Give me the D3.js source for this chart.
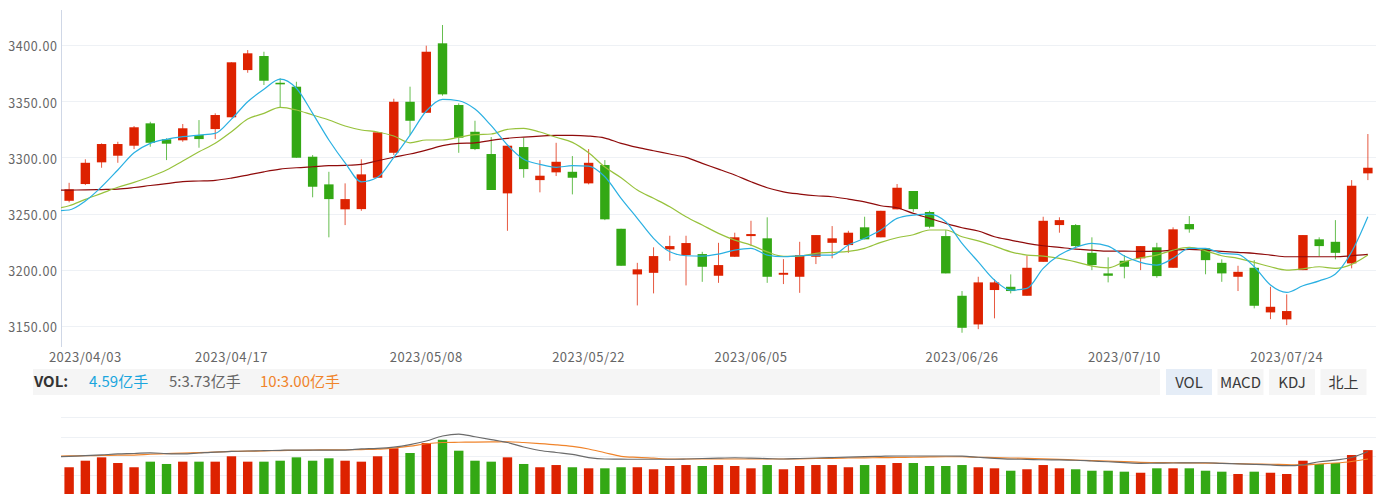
<!DOCTYPE html>
<html lang="zh-CN">
<head>
<meta charset="UTF-8" />
<title>上证指数 日K</title>
<script src="https://cdn.jsdelivr.net/npm/d3@7"></script>
<style>
  body { margin: 0; background: #fff; }
  svg text { font-family: "Noto Sans CJK SC", "Liberation Sans", sans-serif; }
</style>
</head>
<body>
<div id="chart"></div>
<script>
// ---- data ----
const dates = [
  "2023/03/31","2023/04/03","2023/04/04","2023/04/06","2023/04/07","2023/04/10","2023/04/11","2023/04/12","2023/04/13","2023/04/14",
  "2023/04/17","2023/04/18","2023/04/19","2023/04/20","2023/04/21","2023/04/24","2023/04/25","2023/04/26","2023/04/27","2023/04/28",
  "2023/05/04","2023/05/05","2023/05/08","2023/05/09","2023/05/10","2023/05/11","2023/05/12","2023/05/15","2023/05/16","2023/05/17",
  "2023/05/18","2023/05/19","2023/05/22","2023/05/23","2023/05/24","2023/05/25","2023/05/26","2023/05/29","2023/05/30","2023/05/31",
  "2023/06/01","2023/06/02","2023/06/05","2023/06/06","2023/06/07","2023/06/08","2023/06/09","2023/06/12","2023/06/13","2023/06/14",
  "2023/06/15","2023/06/16","2023/06/19","2023/06/20","2023/06/21","2023/06/26","2023/06/27","2023/06/28","2023/06/29","2023/06/30",
  "2023/07/03","2023/07/04","2023/07/05","2023/07/06","2023/07/07","2023/07/10","2023/07/11","2023/07/12","2023/07/13","2023/07/14",
  "2023/07/17","2023/07/18","2023/07/19","2023/07/20","2023/07/21","2023/07/24","2023/07/25","2023/07/26","2023/07/27","2023/07/28",
  "2023/07/31"
];
const opens = [
  3261.4,3276.3,3295.6,3301.5,3310.4,3330.3,3316.1,3315.2,3319.9,3325.2,
  3335.7,3377.7,3390.2,3366.4,3362.9,3300.6,3276.0,3253.8,3254.0,3281.9,
  3304.1,3349.5,3339.7,3401.5,3346.6,3322.8,3303.0,3268.0,3309.2,3279.8,
  3286.7,3287.2,3276.9,3293.2,3236.5,3195.9,3197.3,3218.2,3213.1,3214.0,
  3194.7,3211.6,3230.0,3228.0,3195.6,3193.8,3211.6,3224.0,3222.0,3237.8,
  3228.9,3253.8,3270.1,3251.4,3230.0,3176.9,3151.4,3182.0,3184.9,3176.9,
  3207.1,3239.8,3239.8,3215.1,3196.8,3208.0,3210.2,3220.0,3201.8,3240.7,
  3219.1,3206.2,3193.8,3201.8,3162.1,3155.9,3199.7,3227.1,3224.9,3205.7,
  3285.8
];
const closes = [
  3271.6,3295.2,3311.9,3311.9,3326.8,3313.0,3312.2,3325.9,3316.3,3337.7,
  3384.6,3392.6,3368.2,3365.0,3299.7,3273.9,3262.9,3262.9,3284.9,3322.3,
  3349.5,3332.6,3394.0,3356.1,3317.5,3307.4,3271.0,3310.4,3289.6,3283.7,
  3296.1,3281.9,3295.2,3244.9,3203.6,3200.4,3212.2,3221.1,3223.8,3202.7,
  3204.2,3228.9,3231.8,3193.8,3197.3,3213.1,3230.9,3228.0,3233.0,3227.1,
  3252.5,3273.0,3254.0,3238.3,3196.8,3148.4,3188.8,3188.8,3181.1,3201.8,
  3243.6,3244.2,3221.1,3204.2,3194.7,3202.7,3221.1,3194.4,3236.0,3236.0,
  3208.6,3196.8,3198.2,3168.0,3167.1,3163.3,3230.9,3221.1,3215.1,3274.8,
  3290.8
];
const highs = [
  3277.4,3298.3,3312.5,3313.9,3327.9,3331.7,3317.0,3329.7,3333.2,3339.2,
  3384.6,3395.5,3394.0,3370.4,3367.3,3302.1,3287.2,3276.9,3298.3,3322.3,
  3352.2,3362.9,3399.4,3417.8,3348.1,3332.6,3318.1,3310.4,3317.5,3297.6,
  3313.0,3301.2,3307.4,3297.6,3236.5,3206.2,3220.0,3230.3,3230.3,3216.0,
  3224.0,3233.0,3243.6,3246.7,3209.5,3224.9,3230.9,3238.9,3234.7,3247.2,
  3252.5,3276.3,3270.1,3252.5,3235.3,3181.1,3193.8,3191.5,3195.9,3212.5,
  3247.2,3246.7,3240.7,3228.9,3211.1,3213.1,3221.1,3224.0,3237.8,3247.8,
  3219.1,3209.3,3203.6,3208.6,3184.9,3178.1,3230.9,3228.9,3244.2,3279.8,
  3320.8
];
const lows = [
  3260.0,3275.4,3290.8,3295.2,3307.4,3309.5,3297.6,3313.9,3308.6,3316.3,
  3335.7,3375.3,3364.4,3344.2,3299.7,3264.5,3228.9,3239.8,3252.5,3281.9,
  3302.1,3319.9,3339.7,3354.9,3304.1,3306.5,3271.0,3234.7,3281.9,3268.9,
  3283.4,3267.1,3276.0,3244.2,3203.6,3168.3,3179.0,3208.0,3186.1,3189.3,
  3188.4,3211.6,3221.1,3188.4,3187.3,3179.5,3205.1,3210.2,3215.1,3227.1,
  3228.9,3253.8,3251.6,3236.9,3196.8,3144.0,3147.2,3156.8,3179.0,3176.9,
  3207.1,3233.0,3219.1,3199.7,3188.8,3192.4,3199.7,3192.9,3201.8,3233.0,
  3196.0,3189.3,3181.1,3165.7,3156.1,3150.8,3199.7,3212.2,3209.3,3201.3,
  3279.8
];
// moving averages as drawn (first value = day before the visible window)
const ma5 = [
  3252.3,
  3253.2,3261.2,3273.9,3288.8,3304.1,3312.5,3316.1,3318.4,3319.9,3321.4,
  3334.1,3349.5,3360.6,3369.7,3361.5,3339.2,3315.5,3295.2,3278.3,3282.3,
  3300.1,3319.9,3341.3,3351.7,3350.4,3343.0,3328.2,3311.0,3298.3,3293.8,
  3291.2,3292.6,3292.3,3282.8,3263.6,3245.8,3228.0,3216.0,3212.5,3212.2,
  3214.0,3217.5,3219.1,3213.1,3211.6,3212.5,3213.1,3213.1,3222.0,3228.0,
  3235.4,3245.8,3248.7,3249.6,3242.7,3223.5,3207.1,3190.9,3181.9,3183.5,
  3201.3,3213.1,3220.0,3223.5,3221.1,3212.2,3206.6,3204.2,3210.2,3219.1,
  3219.1,3214.6,3213.7,3202.7,3186.4,3179.9,3185.8,3190.2,3196.2,3216.0,
  3247.2
];
const ma10 = [
  3254.0,
  3257.0,3262.7,3268.0,3273.4,3277.8,3282.8,3288.8,3296.8,3305.0,3312.5,
  3322.8,3334.1,3339.2,3344.5,3342.2,3337.7,3333.3,3327.9,3324.4,3322.6,
  3319.0,3313.0,3315.5,3315.5,3317.9,3320.2,3320.8,3325.0,3325.9,3322.6,
  3317.9,3313.4,3304.1,3291.4,3281.9,3270.9,3263.6,3256.1,3247.2,3239.8,
  3232.4,3226.4,3222.0,3216.0,3211.9,3212.1,3214.6,3215.5,3216.4,3219.1,
  3224.4,3228.5,3231.2,3235.4,3235.4,3229.4,3225.8,3221.1,3216.0,3213.1,
  3212.2,3210.2,3207.1,3203.3,3201.8,3207.1,3210.7,3213.1,3217.5,3219.9,
  3216.9,3212.5,3210.2,3206.6,3202.7,3199.8,3200.9,3202.7,3201.3,3204.8,
  3213.1
];
const ma30 = [
  3270.7,
  3270.9,3271.1,3271.4,3271.8,3273.2,3275.0,3276.7,3278.5,3279.0,3279.6,
  3281.6,3284.3,3287.2,3289.6,3290.8,3291.7,3292.6,3292.9,3293.8,3297.0,
  3300.1,3303.0,3306.5,3310.4,3312.5,3313.0,3315.2,3317.0,3318.1,3319.0,
  3319.6,3319.6,3319.0,3317.2,3312.5,3308.9,3305.9,3303.0,3300.0,3294.7,
  3289.6,3284.3,3278.3,3273.0,3269.4,3267.4,3265.9,3265.0,3262.9,3260.5,
  3257.0,3255.2,3250.2,3245.8,3241.3,3237.4,3234.5,3229.4,3226.4,3223.5,
  3221.4,3219.9,3218.4,3217.5,3216.6,3216.6,3216.4,3216.6,3217.5,3218.2,
  3217.5,3216.4,3215.5,3214.6,3213.1,3211.6,3211.6,3211.6,3211.6,3212.5,
  3213.7
];
// volume, 亿手
const volumes = [
  2.81,3.49,3.84,3.25,2.81,3.39,3.15,3.39,3.39,3.39,
  3.95,3.39,3.39,3.49,3.84,3.49,3.74,3.49,3.39,3.95,
  4.78,4.29,5.33,5.67,4.53,3.49,3.39,3.84,3.15,2.81,
  3.04,2.81,2.70,2.70,2.81,2.81,2.60,2.94,3.04,2.94,
  3.04,2.94,2.70,3.04,2.60,2.94,3.04,3.04,2.81,3.04,
  3.04,3.25,3.25,2.94,2.94,3.04,2.81,2.70,2.45,2.60,
  3.04,2.70,2.60,2.45,2.45,2.35,2.24,2.70,2.70,2.70,
  2.45,2.35,2.11,2.35,2.24,2.11,3.49,3.15,3.25,4.08,
  4.59
];
const volMa5 = [
  3.89,
  3.94,4.02,4.10,4.19,4.24,4.31,4.23,4.19,4.29,4.39,
  4.45,4.50,4.53,4.57,4.60,4.60,4.60,4.60,4.71,4.77,
  4.91,5.17,5.54,6.06,6.26,5.98,5.69,5.38,4.91,4.55,
  4.34,4.14,3.82,3.67,3.65,3.64,3.64,3.64,3.67,3.72,
  3.75,3.80,3.75,3.71,3.67,3.72,3.77,3.82,3.86,3.91,
  3.95,3.98,3.98,3.98,3.98,3.96,3.85,3.74,3.66,3.63,
  3.59,3.58,3.54,3.46,3.38,3.29,3.22,3.23,3.25,3.27,
  3.28,3.22,3.17,3.11,3.05,2.97,3.06,3.38,3.56,3.82,
  4.45
];
const volMa10 = [
  3.97,
  3.99,4.01,4.03,4.06,4.08,4.16,4.22,4.28,4.33,4.39,
  4.45,4.48,4.51,4.54,4.57,4.60,4.61,4.63,4.65,4.68,
  4.81,5.00,5.25,5.38,5.41,5.43,5.44,5.46,5.38,5.27,
  5.14,4.97,4.71,4.32,3.95,3.83,3.75,3.67,3.67,3.67,
  3.67,3.67,3.67,3.67,3.67,3.69,3.72,3.74,3.77,3.79,
  3.81,3.83,3.85,3.88,3.90,3.90,3.85,3.81,3.77,3.73,
  3.69,3.63,3.56,3.50,3.44,3.39,3.32,3.30,3.28,3.26,
  3.24,3.22,3.19,3.15,3.12,3.08,3.05,3.15,3.25,3.41,
  3.67
];
const dateTicks = ["2023/04/03","2023/04/17","2023/05/08","2023/05/22","2023/06/05","2023/06/26","2023/07/10","2023/07/24"];
const priceTicks = [3150, 3200, 3250, 3300, 3350, 3400];
const volGridTicks = [2, 4, 6, 8];
const buttons = ["VOL", "MACD", "KDJ", "北上"];

// ---- layout ----
const W = 1385, H = 494;
const left = 61, right = 1376;
const RED = "#dd2200", GREEN = "#33a814";

const svg = d3.select("#chart").append("svg")
  .attr("width", W).attr("height", H)
  .style("display", "block");

svg.append("clipPath").attr("id", "plotClip")
  .append("rect").attr("x", left).attr("y", 0).attr("width", right - left).attr("height", H);

const x = d3.scaleBand().domain(dates).range([left, right])
  .paddingInner(0.42).paddingOuter(0.21);
const cx = i => x(dates[i]) + x.bandwidth() / 2;
const y = d3.scaleLinear().domain([3150, 3400]).range([326, 45]);
const vy = d3.scaleLinear().domain([0, 8]).range([494.3, 417.3]);

// grid lines
svg.append("g").selectAll("line").data(priceTicks).join("line")
  .attr("x1", left).attr("x2", right)
  .attr("y1", d => Math.round(y(d)) + 0.5).attr("y2", d => Math.round(y(d)) + 0.5)
  .attr("stroke", "#eef1f5");
svg.append("g").selectAll("line").data(volGridTicks).join("line")
  .attr("x1", left).attr("x2", right)
  .attr("y1", d => Math.round(vy(d)) + 0.5).attr("y2", d => Math.round(vy(d)) + 0.5)
  .attr("stroke", "#eef1f5");

// y axis
const yAxis = svg.append("g").attr("transform", `translate(${left + 0.5},0)`)
  .call(d3.axisLeft(y).tickValues(priceTicks).tickFormat(d3.format(".2f")).tickSize(0).tickPadding(4));
yAxis.select(".domain").remove();
yAxis.selectAll("text").attr("font-size", 12.5).attr("letter-spacing", 0.6)
  .attr("fill", "#666").attr("dy", "0.47em");
svg.append("line").attr("x1", left + 0.5).attr("x2", left + 0.5).attr("y1", 10).attr("y2", 347)
  .attr("stroke", "#cfd7e6");

// x labels
svg.append("g").selectAll("text").data(dateTicks).join("text")
  .attr("x", d => x(d) + x.bandwidth() / 2).attr("y", 361.5)
  .attr("text-anchor", "middle").attr("font-size", 13).attr("letter-spacing", 0.5)
  .attr("fill", "#666")
  .text(d => d);

// candles
const idx = d3.range(dates.length);
const candles = svg.append("g").attr("clip-path", "url(#plotClip)");
const col = i => closes[i] >= opens[i] ? RED : GREEN;
candles.selectAll("line").data(idx).join("line")
  .attr("x1", i => cx(i)).attr("x2", i => cx(i))
  .attr("y1", i => y(highs[i])).attr("y2", i => y(lows[i]))
  .attr("stroke", col).attr("stroke-width", 1).attr("stroke-opacity", 0.75);
candles.selectAll("rect").data(idx).join("rect")
  .attr("x", i => x(dates[i]))
  .attr("width", x.bandwidth())
  .attr("y", i => y(Math.max(opens[i], closes[i])))
  .attr("height", i => Math.max(1.5, Math.abs(y(opens[i]) - y(closes[i]))))
  .attr("fill", col);

// MA lines (first value sits one step left of the first candle)
const lineOf = (scale) => d3.line()
  .x((d, i) => i === 0 ? cx(0) - x.step() : cx(i - 1))
  .y(d => scale(d))
  .curve(d3.curveMonotoneX);
const maG = svg.append("g").attr("clip-path", "url(#plotClip)").attr("fill", "none");
[[ma30, "#8f0b0b"], [ma10, "#97c23c"], [ma5, "#2ab0e2"]].forEach(([arr, c]) => {
  maG.append("path").attr("d", lineOf(y)(arr)).attr("stroke", c).attr("stroke-width", 1.2);
});

// VOL legend bar
svg.append("rect").attr("x", 33).attr("y", 369).attr("width", 1127).attr("height", 26).attr("fill", "#f5f5f5");
svg.append("text").attr("x", 34).attr("y", 387).attr("font-size", 15).attr("font-weight", "bold")
  .attr("fill", "#333").text("VOL:");
const legendItems = [
  { x: 89, text: "4.59亿手", c: "#1ba6de" },
  { x: 169, text: "5:3.73亿手", c: "#666" },
  { x: 260, text: "10:3.00亿手", c: "#f0842b" }
];
svg.append("g").selectAll("text").data(legendItems).join("text")
  .attr("x", d => d.x).attr("y", 387).attr("font-size", 15).attr("fill", d => d.c)
  .text(d => d.text);

const btn = svg.append("g").selectAll("g").data(buttons).join("g")
  .attr("transform", (d, i) => `translate(${1166 + i * 51.5},369)`);
btn.append("rect").attr("width", 46).attr("height", 26)
  .attr("fill", (d, i) => i === 0 ? "#e5edf7" : "#f5f5f5");
btn.append("text").attr("x", 23).attr("y", 19).attr("text-anchor", "middle")
  .attr("font-size", 15).attr("fill", "#3a3a3a").text(d => d);

// volume bars
const volG = svg.append("g").attr("clip-path", "url(#plotClip)");
volG.selectAll("rect").data(idx).join("rect")
  .attr("x", i => x(dates[i])).attr("width", x.bandwidth())
  .attr("y", i => vy(volumes[i])).attr("height", i => vy(0) - vy(volumes[i]))
  .attr("fill", col);

const vmaG = svg.append("g").attr("clip-path", "url(#plotClip)").attr("fill", "none");
vmaG.append("path").attr("d", lineOf(vy)(volMa10)).attr("stroke", "#f0842b").attr("stroke-width", 1.2);
vmaG.append("path").attr("d", lineOf(vy)(volMa5)).attr("stroke", "#6b6b6b").attr("stroke-width", 1.2);
</script>
</body>
</html>
